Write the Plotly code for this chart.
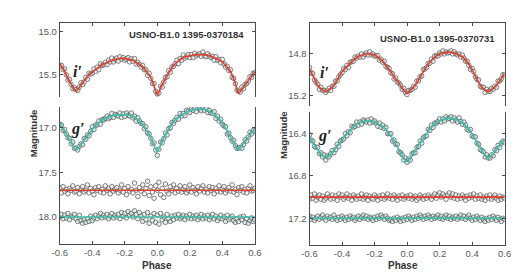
import plotly.graph_objects as go

# ---------------- data ----------------
PHASE = [-0.60,-0.59,-0.58,-0.57,-0.56,-0.55,-0.54,-0.53,-0.52,-0.51,
         -0.50,-0.49,-0.48,-0.47,-0.46,-0.45,-0.44,-0.43,-0.42,-0.41,
         -0.40,-0.39,-0.38,-0.37,-0.36,-0.35,-0.34,-0.33,-0.32,-0.31,
         -0.30,-0.29,-0.28,-0.27,-0.26,-0.25,-0.24,-0.23,-0.22,-0.21,
         -0.20,-0.19,-0.18,-0.17,-0.16,-0.15,-0.14,-0.13,-0.12,-0.11,
         -0.10,-0.09,-0.08,-0.07,-0.06,-0.05,-0.04,-0.03,-0.02,-0.01,
         0.00,0.01,0.02,0.03,0.04,0.05,0.06,0.07,0.08,0.09,
         0.10,0.11,0.12,0.13,0.14,0.15,0.16,0.17,0.18,0.19,
         0.20,0.21,0.22,0.23,0.24,0.25,0.26,0.27,0.28,0.29,
         0.30,0.31,0.32,0.33,0.34,0.35,0.36,0.37,0.38,0.39,
         0.40,0.41,0.42,0.43,0.44,0.45,0.46,0.47,0.48,0.49,
         0.50,0.51,0.52,0.53,0.54,0.55,0.56,0.57,0.58,0.59,
         0.60]

FIT_PHASE = [-0.600,-0.575,-0.550,-0.525,-0.500,-0.475,-0.450,-0.425,-0.400,-0.375,
             -0.350,-0.325,-0.300,-0.275,-0.250,-0.225,-0.200,-0.175,-0.150,-0.125,
             -0.100,-0.075,-0.050,-0.025,0.000,0.025,0.050,0.075,0.100,0.125,
             0.150,0.175,0.200,0.225,0.250,0.275,0.300,0.325,0.350,0.375,
             0.400,0.425,0.450,0.475,0.500,0.525,0.550,0.575,0.600]

FLAT_PHASE = [-0.6, 0.6]

# USNO-B1.0 1395-0370184 (left)
I1_OBS = [15.39,15.39,15.44,15.43,15.50,15.56,15.55,15.61,15.66,15.65,
          15.67,15.68,15.64,15.59,15.61,15.58,15.53,15.55,15.48,15.49,
          15.48,15.43,15.46,15.41,15.44,15.37,15.39,15.385,15.355,15.38,
          15.33,15.35,15.305,15.35,15.32,15.305,15.34,15.29,15.32,15.30,
          15.33,15.315,15.30,15.35,15.315,15.34,15.31,15.375,15.355,15.38,
          15.41,15.39,15.44,15.44,15.505,15.48,15.54,15.60,15.60,15.69,
          15.72,15.71,15.63,15.64,15.58,15.53,15.52,15.45,15.47,15.41,
          15.40,15.37,15.33,15.37,15.31,15.33,15.27,15.305,15.29,15.265,
          15.30,15.265,15.30,15.25,15.28,15.265,15.255,15.285,15.235,15.28,
          15.29,15.255,15.28,15.30,15.285,15.33,15.29,15.33,15.32,15.36,
          15.32,15.37,15.41,15.40,15.45,15.44,15.53,15.54,15.60,15.675,
          15.69,15.70,15.64,15.66,15.61,15.60,15.57,15.52,15.53,15.48,
          15.47]
I1_FIT = [15.37,15.44,15.54,15.62,15.69,15.63,15.57,15.51,15.47,15.43,
          15.40,15.37,15.35,15.33,15.315,15.31,15.31,15.32,15.33,15.36,
          15.39,15.44,15.50,15.60,15.73,15.63,15.54,15.46,15.39,15.345,
          15.31,15.29,15.28,15.27,15.265,15.265,15.27,15.28,15.30,15.32,
          15.35,15.40,15.46,15.57,15.71,15.66,15.59,15.53,15.46]
G1_OBS = [16.96,16.97,17.03,17.02,17.07,17.11,17.12,17.18,17.16,17.23,
          17.23,17.25,17.21,17.18,17.19,17.12,17.13,17.08,17.09,17.04,
          16.99,17.02,16.97,16.97,16.925,16.96,16.91,16.915,16.895,16.87,
          16.90,16.885,16.84,16.885,16.85,16.86,16.87,16.835,16.885,16.845,
          16.875,16.835,16.86,16.87,16.835,16.89,16.87,16.925,16.89,16.925,
          16.95,16.955,17.01,16.99,17.06,17.07,17.12,17.18,17.17,17.25,
          17.31,17.24,17.16,17.17,17.12,17.06,17.08,17.01,17.00,16.94,
          16.95,16.915,16.885,16.905,16.84,16.87,16.84,16.865,16.805,16.815,
          16.83,16.79,16.805,16.775,16.82,16.78,16.79,16.81,16.76,16.805,
          16.78,16.83,16.805,16.835,16.84,16.82,16.895,16.87,16.925,16.905,
          16.96,16.98,16.99,17.07,17.06,17.11,17.15,17.14,17.20,17.23,
          17.23,17.22,17.23,17.19,17.135,17.15,17.105,17.05,17.07,17.03,
          17.04]
G1_FIT = [16.95,17.02,17.10,17.18,17.25,17.20,17.14,17.08,17.02,16.97,
          16.93,16.90,16.88,16.865,16.86,16.855,16.855,16.86,16.87,16.90,
          16.94,17.00,17.08,17.17,17.27,17.17,17.08,17.00,16.93,16.89,
          16.86,16.83,16.81,16.795,16.79,16.79,16.80,16.82,16.85,16.89,
          16.95,17.02,17.10,17.18,17.25,17.19,17.13,17.07,17.02]
C1A_OBS = [17.67,17.73,17.66,17.71,17.69,17.74,17.68,17.70,17.65,17.72,
           17.71,17.67,17.74,17.69,17.66,17.72,17.70,17.64,17.73,17.68,
           17.71,17.75,17.67,17.70,17.66,17.72,17.69,17.73,17.65,17.70,
           17.68,17.74,17.66,17.71,17.69,17.67,17.73,17.70,17.64,17.72,
           17.68,17.75,17.66,17.71,17.69,17.73,17.62,17.70,17.77,17.67,
           17.71,17.64,17.74,17.68,17.60,17.76,17.66,17.72,17.79,17.65,
           17.70,17.61,17.75,17.68,17.78,17.63,17.71,17.74,17.66,17.70,
           17.64,17.73,17.68,17.71,17.65,17.72,17.69,17.66,17.73,17.70,
           17.64,17.72,17.67,17.70,17.74,17.66,17.71,17.68,17.65,17.72,
           17.69,17.73,17.66,17.70,17.67,17.74,17.68,17.71,17.65,17.72,
           17.69,17.66,17.73,17.70,17.67,17.71,17.64,17.72,17.69,17.75,
           17.67,17.70,17.66,17.72,17.69,17.73,17.68,17.65,17.71,17.70,
           17.68]
C1A_FIT = [17.70, 17.70]
C1B_OBS = [18.00,17.97,18.02,17.98,18.01,17.96,18.03,17.99,18.00,17.97,
           18.02,18.05,17.98,18.04,18.07,18.03,18.06,18.02,18.05,17.99,
           18.04,18.01,17.98,18.02,17.99,17.96,18.01,17.98,18.00,17.97,
           18.02,17.99,17.96,18.01,17.98,18.00,17.97,18.02,17.95,17.99,
           17.96,18.01,17.94,17.98,17.96,18.00,17.93,17.97,18.02,17.95,
           17.99,18.05,17.97,18.03,17.95,18.07,17.99,18.04,17.96,18.06,
           17.98,18.08,17.96,18.03,18.00,18.06,17.97,18.02,18.05,17.99,
           18.03,17.98,18.01,17.97,18.02,18.00,17.98,18.03,17.99,18.01,
           17.97,18.02,17.99,18.01,17.98,18.03,18.00,17.97,18.02,17.99,
           18.01,17.98,18.03,18.00,17.97,18.02,17.99,18.04,18.01,17.98,
           18.02,18.00,18.05,17.98,18.03,18.01,17.99,18.04,18.06,18.02,
           18.05,18.00,18.03,17.99,18.06,18.02,18.07,18.04,18.01,18.05,
           18.03]
C1B_FIT = [18.00, 18.00]

# USNO-B1.0 1395-0370731 (right)
I2_OBS = [14.93,14.98,14.99,15.05,15.07,15.09,15.14,15.12,15.15,15.15,
          15.17,15.15,15.13,15.15,15.11,15.11,15.06,15.06,15.02,15.00,
          14.98,14.94,14.95,14.91,14.93,14.88,14.875,14.87,14.83,14.84,
          14.82,14.83,14.80,14.83,14.805,14.79,14.81,14.78,14.81,14.80,
          14.82,14.82,14.815,14.86,14.85,14.88,14.87,14.92,14.93,14.94,
          14.98,14.99,15.04,15.03,15.07,15.08,15.10,15.14,15.13,15.17,
          15.19,15.15,15.15,15.14,15.11,15.12,15.06,15.06,15.02,15.01,
          14.95,14.945,14.93,14.89,14.89,14.85,14.87,14.82,14.82,14.82,
          14.79,14.80,14.77,14.80,14.78,14.79,14.785,14.77,14.80,14.78,
          14.80,14.81,14.80,14.83,14.81,14.84,14.87,14.87,14.91,14.95,
          14.94,14.97,15.02,15.045,15.05,15.11,15.12,15.12,15.17,15.14,
          15.16,15.16,15.13,15.14,15.11,15.12,15.06,15.06,15.04,15.00,
          15.00]
I2_FIT = [14.94,15.02,15.10,15.14,15.16,15.14,15.10,15.04,14.97,14.93,
          14.89,14.855,14.825,14.81,14.80,14.80,14.81,14.835,14.87,14.92,
          14.97,15.03,15.08,15.14,15.18,15.14,15.10,15.04,14.97,14.91,
          14.86,14.825,14.80,14.79,14.785,14.785,14.795,14.815,14.84,14.89,
          14.95,15.03,15.10,15.14,15.16,15.14,15.10,15.05,14.99]
G2_OBS = [16.41,16.46,16.47,16.52,16.53,16.53,16.59,16.58,16.62,16.60,
          16.65,16.61,16.62,16.59,16.56,16.58,16.55,16.50,16.52,16.47,
          16.46,16.45,16.40,16.42,16.38,16.39,16.33,16.34,16.33,16.29,
          16.32,16.29,16.31,16.27,16.28,16.29,16.27,16.30,16.26,16.29,
          16.28,16.30,16.33,16.30,16.34,16.32,16.35,16.34,16.40,16.40,
          16.40,16.47,16.46,16.50,16.50,16.57,16.58,16.60,16.65,16.63,
          16.67,16.64,16.65,16.59,16.58,16.58,16.53,16.52,16.47,16.49,
          16.44,16.425,16.42,16.36,16.37,16.32,16.34,16.30,16.30,16.285,
          16.26,16.29,16.26,16.28,16.24,16.26,16.255,16.24,16.28,16.25,
          16.27,16.29,16.25,16.285,16.31,16.29,16.32,16.36,16.37,16.36,
          16.42,16.43,16.43,16.49,16.50,16.55,16.56,16.57,16.62,16.60,
          16.63,16.63,16.60,16.61,16.55,16.56,16.51,16.53,16.49,16.47,
          16.48]
G2_FIT = [16.43,16.49,16.55,16.60,16.63,16.60,16.56,16.51,16.46,16.41,
          16.37,16.33,16.30,16.285,16.28,16.28,16.29,16.31,16.33,16.37,
          16.42,16.48,16.55,16.62,16.665,16.62,16.56,16.50,16.45,16.39,
          16.34,16.30,16.28,16.26,16.255,16.255,16.265,16.28,16.31,16.35,
          16.40,16.47,16.53,16.59,16.63,16.60,16.55,16.50,16.46]
C2A_OBS = [17.02,16.98,17.01,16.97,17.03,17.00,16.98,17.02,16.99,17.03,
           17.01,16.97,17.00,17.02,16.98,17.01,16.99,17.03,16.97,17.00,
           16.98,17.02,17.00,16.97,17.01,16.99,17.03,16.98,17.00,17.02,
           16.99,17.01,16.97,17.02,17.00,16.98,17.03,16.99,17.01,17.02,
           16.98,17.00,17.03,16.99,17.01,16.98,17.02,17.00,16.97,17.01,
           16.99,17.02,16.98,17.00,17.03,16.99,17.01,16.98,17.02,17.00,
           16.99,17.01,16.98,17.02,17.00,16.99,17.03,17.01,16.98,17.00,
           17.02,16.99,17.01,16.98,17.00,17.02,16.99,16.97,17.01,16.98,
           16.96,17.00,16.97,16.99,17.02,16.98,16.96,17.00,16.97,17.01,
           16.98,17.02,16.99,17.01,16.98,17.00,17.03,16.99,17.01,16.98,
           17.00,16.97,17.02,16.99,17.01,16.98,17.02,17.00,17.03,16.99,
           17.01,16.98,17.02,17.00,16.98,17.01,17.03,16.99,17.02,17.00,
           17.01]
C2A_FIT = [17.00, 17.00]
C2B_OBS = [17.18,17.21,17.19,17.22,17.20,17.18,17.21,17.19,17.17,17.20,
           17.22,17.18,17.20,17.19,17.21,17.17,17.20,17.22,17.19,17.21,
           17.18,17.20,17.22,17.19,17.21,17.18,17.20,17.19,17.22,17.20,
           17.18,17.21,17.19,17.17,17.20,17.18,17.21,17.19,17.20,17.22,
           17.19,17.21,17.18,17.20,17.17,17.19,17.21,17.18,17.20,17.22,
           17.21,17.23,17.20,17.22,17.19,17.21,17.23,17.20,17.22,17.19,
           17.21,17.18,17.20,17.22,17.19,17.21,17.18,17.20,17.17,17.19,
           17.21,17.18,17.20,17.17,17.19,17.21,17.18,17.20,17.19,17.17,
           17.20,17.18,17.21,17.19,17.17,17.20,17.18,17.21,17.19,17.20,
           17.18,17.21,17.19,17.17,17.20,17.18,17.21,17.19,17.17,17.20,
           17.22,17.19,17.21,17.18,17.20,17.22,17.19,17.21,17.23,17.20,
           17.22,17.19,17.21,17.18,17.20,17.22,17.19,17.21,17.23,17.20,
           17.21]
C2B_FIT = [17.20, 17.20]

X_TICKS = [-0.6, -0.4, -0.2, 0.0, 0.2, 0.4, 0.6]
X_TICKTEXT = ["-0.6", "-0.4", "-0.2", "0.0", "0.2", "0.4", "0.6"]
Y1_TOP_TICKS = [15.0, 15.5]
Y1_TOP_TEXT = ["15.0", "15.5"]
Y1_BOT_TICKS = [17.0, 17.5, 18.0]
Y1_BOT_TEXT = ["17.0", "17.5", "18.0"]
Y2_TOP_TICKS = [14.8, 15.2]
Y2_TOP_TEXT = ["14.8", "15.2"]
Y2_BOT_TICKS = [16.4, 16.8, 17.2]
Y2_BOT_TEXT = ["16.4", "16.8", "17.2"]

TITLE_LEFT = "USNO-B1.0 1395-0370184"
TITLE_RIGHT = "USNO-B1.0 1395-0370731"

# ---------------- style ----------------
W, H = 532, 275
RED = "#e0402c"
CYAN = "#3fbfae"
FRAME = "#4a4a4a"
TICKC = "#5a5a5a"
FONT = "Liberation Sans, Arial, sans-serif"

def px(x):
    return x / W

def py(y):
    return 1 - y / H

fig = go.Figure()

def obs(x, y, xa, ya, fill):
    fig.add_trace(go.Scatter(
        x=x, y=y, xaxis=xa, yaxis=ya, mode="markers", showlegend=False,
        marker=dict(symbol="circle", size=4.5, color=fill,
                    line=dict(color="#555555", width=0.75)),
        hoverinfo="skip"))

def fit(x, y, xa, ya, color):
    fig.add_trace(go.Scatter(
        x=x, y=y, xaxis=xa, yaxis=ya, mode="lines", showlegend=False,
        line=dict(color=color, width=1.6, shape="spline", smoothing=0.6),
        hoverinfo="skip"))

WF = "rgba(240,240,240,0.55)"
GF = "rgba(205,236,231,0.6)"

# left panel: top (x2,y2) i', bottom (x,y) g' and comparison
obs(PHASE, I1_OBS, "x2", "y2", WF)
fit(FIT_PHASE, I1_FIT, "x2", "y2", RED)
obs(PHASE, G1_OBS, "x", "y", GF)
fit(FIT_PHASE, G1_FIT, "x", "y", CYAN)
obs(PHASE, C1A_OBS, "x", "y", WF)
fit(FLAT_PHASE, C1A_FIT, "x", "y", RED)
obs(PHASE, C1B_OBS, "x", "y", GF)
fit(FLAT_PHASE, C1B_FIT, "x", "y", CYAN)

# right panel: top (x4,y4), bottom (x3,y3)
obs(PHASE, I2_OBS, "x4", "y4", WF)
fit(FIT_PHASE, I2_FIT, "x4", "y4", RED)
obs(PHASE, G2_OBS, "x3", "y3", GF)
fit(FIT_PHASE, G2_FIT, "x3", "y3", CYAN)
obs(PHASE, C2A_OBS, "x3", "y3", WF)
fit(FLAT_PHASE, C2A_FIT, "x3", "y3", RED)
obs(PHASE, C2B_OBS, "x3", "y3", GF)
fit(FLAT_PHASE, C2B_FIT, "x3", "y3", CYAN)

tickfont = dict(family=FONT, size=9.5, color=TICKC)

def xaxis(dom, anchor, top):
    return dict(domain=dom, anchor=anchor, range=[-0.6, 0.6],
                tickvals=X_TICKS, ticktext=X_TICKTEXT,
                side="top" if top else "bottom",
                showticklabels=not top,
                ticks="inside", ticklen=3, tickcolor=FRAME,
                showline=True, linecolor=FRAME, linewidth=1,
                showgrid=False, zeroline=False, tickfont=tickfont,
                fixedrange=True)

def yaxis(dom, anchor, rng, tv, tt):
    return dict(domain=dom, anchor=anchor, range=rng,
                tickvals=tv, ticktext=tt,
                ticks="inside", ticklen=3, tickcolor=FRAME,
                showline=True, linecolor=FRAME, linewidth=1, mirror="ticks",
                showgrid=False, zeroline=False, tickfont=tickfont,
                fixedrange=True)

XL = [px(53.3), px(254)]
XR = [px(310.3), px(511)]

fig.update_layout(
    width=W, height=H, margin=dict(l=0, r=0, t=0, b=0),
    paper_bgcolor="white", plot_bgcolor="white",
    xaxis=xaxis(XL, "y", False),
    xaxis2=xaxis(XL, "y2", True),
    xaxis3=xaxis(XR, "y3", False),
    xaxis4=xaxis(XR, "y4", True),
    yaxis=yaxis([py(244), py(107)], "x", [18.302, 16.768], Y1_BOT_TICKS, Y1_BOT_TEXT),
    yaxis2=yaxis([py(97), py(23)], "x2", [15.755, 14.90], Y1_TOP_TICKS, Y1_TOP_TEXT),
    yaxis3=yaxis([py(245), py(112)], "x3", [17.453, 16.195], Y2_BOT_TICKS, Y2_BOT_TEXT),
    yaxis4=yaxis([py(106), py(23)], "x4", [15.30, 14.503], Y2_TOP_TICKS, Y2_TOP_TEXT),
)

ann = []
def text(x, y, s, size, color="#333333", family=FONT, angle=0, xanchor="center"):
    ann.append(dict(x=px(x), y=py(y), xref="paper", yref="paper", text=s,
                    showarrow=False, xanchor=xanchor, yanchor="middle",
                    textangle=angle, font=dict(family=family, size=size, color=color)))

text(245, 34, "<b>" + TITLE_LEFT + "</b>", 9.5, xanchor="right")
text(503, 38, "<b>" + TITLE_RIGHT + "</b>", 9.5, xanchor="right")
SERIF = "Liberation Serif, Times New Roman, serif"
text(72, 71, "<b><i>i′</i></b>", 16, color="#222222", family=SERIF)
text(72, 129, "<b><i>g′</i></b>", 16, color="#222222", family=SERIF)
text(326, 72, "<b><i>i′</i></b>", 16, color="#222222", family=SERIF)
text(326, 136, "<b><i>g′</i></b>", 16, color="#222222", family=SERIF)
text(26, 133, "<b>Magnitude</b>", 9.5, angle=-90)
text(283, 135, "<b>Magnitude</b>", 9.5, angle=-90)
text(153, 265, "<b>Phase</b>", 10)
text(406, 265, "<b>Phase</b>", 10)
fig.update_layout(annotations=ann)

fig.write_html("out.html")
